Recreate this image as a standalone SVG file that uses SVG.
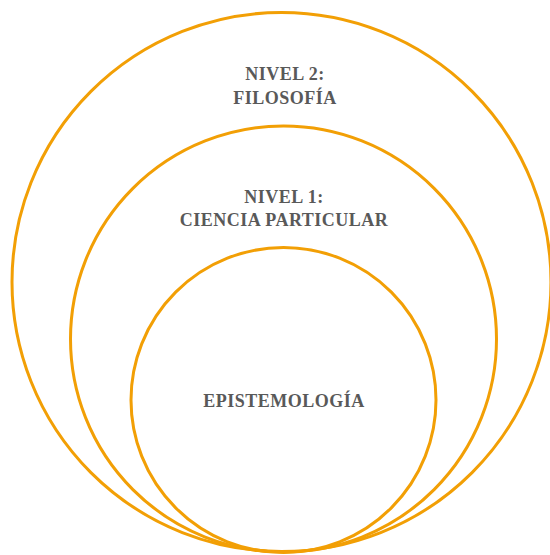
<svg xmlns="http://www.w3.org/2000/svg" width="550" height="555" viewBox="0 0 550 555">
<style>
.c{fill:none;stroke:#F29F05;stroke-width:3}
.t{font-family:"Liberation Serif","Times New Roman",serif;font-weight:bold;font-size:18px;fill:#595959;text-anchor:middle;letter-spacing:0.5px}
</style>
<rect width="550" height="555" fill="#fff"/>
<g id="nivel2"><circle class="c" cx="281.5" cy="282" r="269.5"/>
<text class="t" x="285" y="80">NIVEL 2:</text><text class="t" x="285" y="104">FILOSOFÍA</text></g>
<g id="nivel1"><circle class="c" cx="283.5" cy="339" r="213"/>
<text class="t" x="284" y="203">NIVEL 1:</text><text class="t" x="284" y="226">CIENCIA PARTICULAR</text></g>
<g id="epistemologia"><circle class="c" cx="283.5" cy="400" r="152.5"/>
<text class="t" x="284" y="407">EPISTEMOLOGÍA</text></g>
<g id="connectors"/>
</svg>
